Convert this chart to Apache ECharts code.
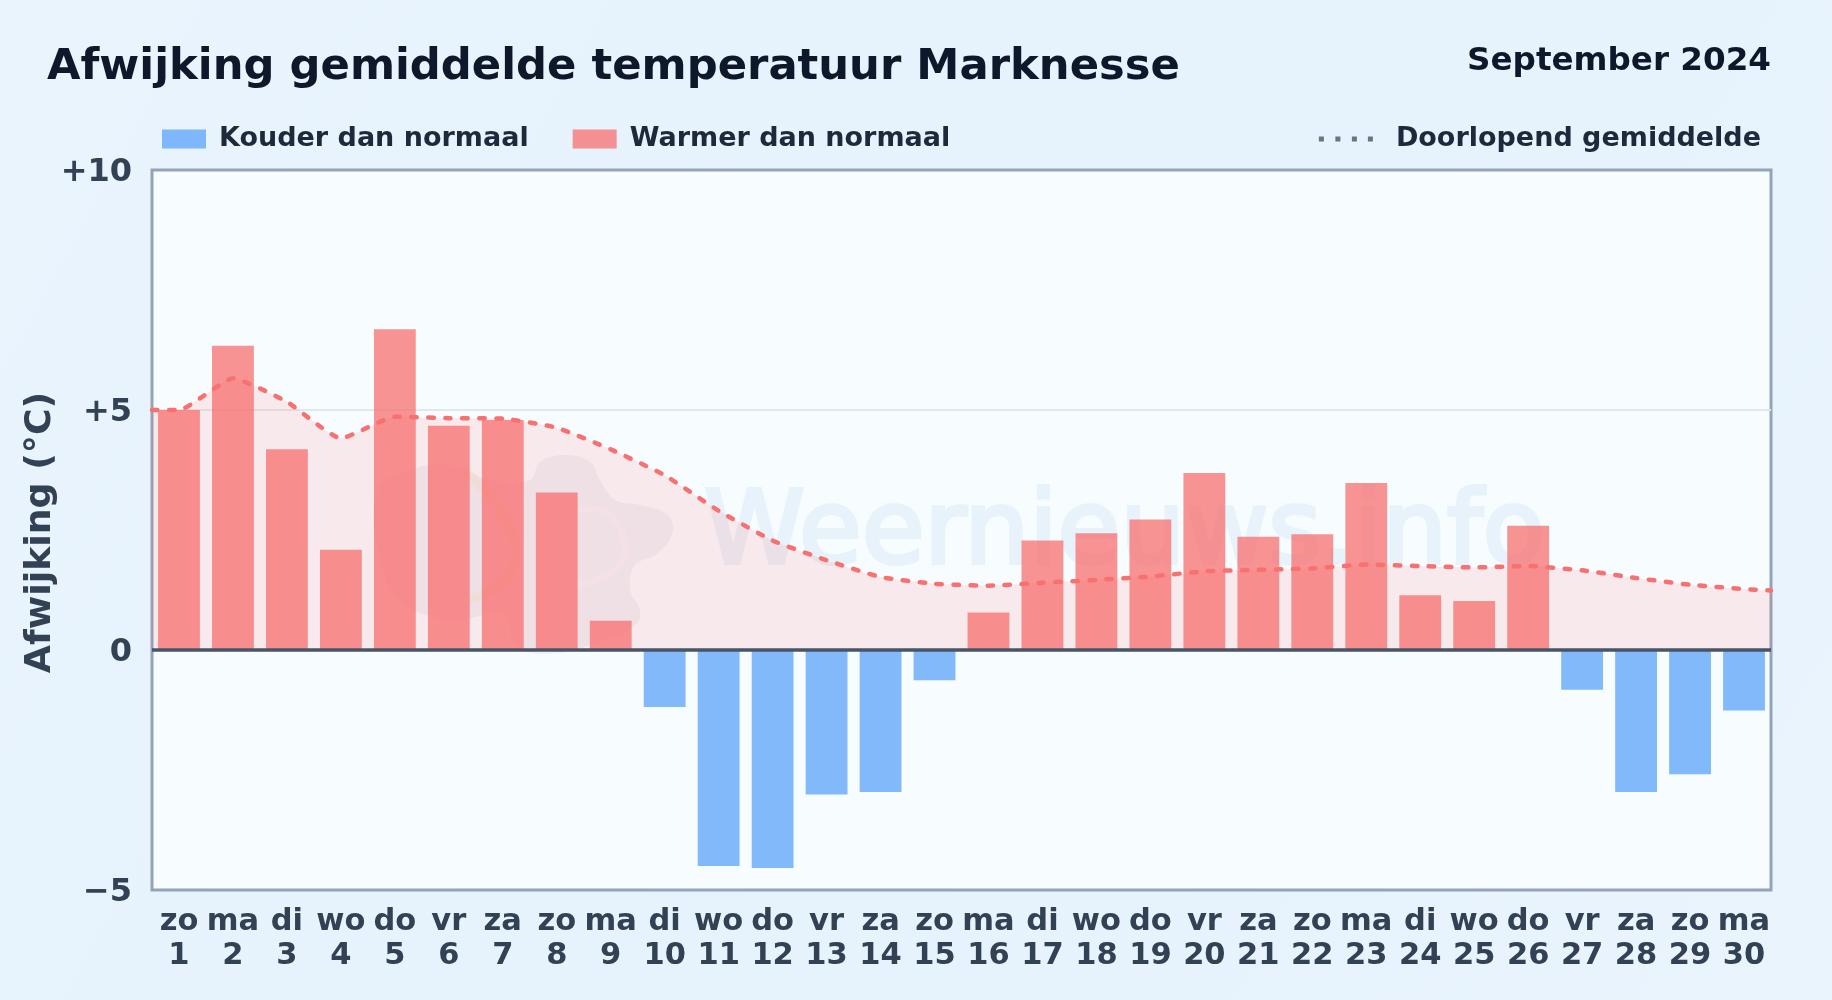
<!DOCTYPE html>
<html><head><meta charset="utf-8">
<style>html,body{margin:0;padding:0;background:#e8f3fc}#c{width:1832px;height:1000px}</style>
<script src="https://cdn.jsdelivr.net/npm/echarts@6/dist/echarts.min.js"></script>
</head><body><div id="c"></div>
<script>
const weekdays = ['zo','ma','di','wo','do','vr','za','zo','ma','di','wo','do','vr','za','zo','ma','di','wo','do','vr','za','zo','ma','di','wo','do','vr','za','zo','ma'];
const days = [1,2,3,4,5,6,7,8,9,10,11,12,13,14,15,16,17,18,19,20,21,22,23,24,25,26,27,28,29,30];
const deviation = [5.0,6.34,4.18,2.09,6.68,4.67,4.79,3.28,0.61,-1.19,-4.5,-4.54,-3.01,-2.96,-0.63,0.78,2.28,2.43,2.72,3.69,2.36,2.41,3.48,1.14,1.02,2.59,-0.83,-2.96,-2.59,-1.26];
const runningMean = [5.0,5.66,5.17,4.41,4.86,4.83,4.82,4.63,4.18,3.64,2.90,2.28,1.87,1.52,1.38,1.34,1.40,1.46,1.53,1.64,1.67,1.70,1.78,1.75,1.72,1.75,1.66,1.50,1.36,1.27];
const edgeStart = 5.0, edgeEnd = 1.24;
const yTicks = {'10':'+10','5':'+5','0':'0','-5':'\u22125'};
const fontName = '"DejaVu Sans"';
const coldName = 'Kouder dan normaal', warmName = 'Warmer dan normaal', meanName = 'Doorlopend gemiddelde';
const dotsIcon = 'path://M0 0h5v5h-5zM16.5 0h5v5h-5zM33 0h5v5h-5zM49 0h5v5h-5z';

const chart = echarts.init(document.getElementById('c'), null, {renderer:'canvas'});
chart.setOption({
  animation:false,
  backgroundColor:{type:'linear',x:0,y:0,x2:1,y2:1,colorStops:[{offset:0,color:'#e9f4fd'},{offset:.5,color:'#e6f2fc'},{offset:1,color:'#e9f4fd'}]},
  title:[
    {text:'Afwijking gemiddelde temperatuur Marknesse',left:42,top:41.5,textStyle:{fontFamily:fontName,fontWeight:'bold',fontSize:43.3,color:'#0f172a'}},
    {text:'September 2024',right:56,top:40,textStyle:{fontFamily:fontName,fontWeight:'bold',fontSize:32.6,color:'#0f172a'}}
  ],
  legend:[
    {left:157,top:120.5,itemWidth:44,itemHeight:19,itemGap:44,icon:'rect',selectedMode:false,data:[coldName,warmName],
     textStyle:{fontFamily:fontName,fontWeight:'bold',fontSize:27,color:'#1e293b',padding:[0,0,0,8]}},
    {right:66,top:120.5,itemWidth:54,itemHeight:5,icon:dotsIcon,selectedMode:false,
     data:[{name:meanName,itemStyle:{color:'#64748b',opacity:1},lineStyle:{opacity:0}}],
     textStyle:{fontFamily:fontName,fontWeight:'bold',fontSize:27,color:'#1e293b',padding:[0,0,0,18]}}
  ],
  grid:{left:152,right:61,top:170,bottom:110,show:true,backgroundColor:'#f7fcff',borderColor:'#94a3b8',borderWidth:3},
  graphic:[
    {type:'text',z:1,x:704,y:485,style:{text:'Weernieuws.info',font:'102px "DejaVu Sans"',fill:'#e7f2fb',stroke:'#e7f2fb',lineWidth:4}},
    {type:'polygon',z:1,shape:{smooth:0.4,points:[[540,462],[565,455],[590,462],[600,480],[615,500],[640,505],[668,515],[672,535],[655,555],[635,565],[630,590],[640,610],[635,625],[590,645],[545,654],[515,645],[505,615],[450,620],[400,600],[378,550],[378,490],[410,470],[450,465],[490,480],[530,480]]},style:{fill:'rgba(71,85,140,0.06)'}},
    {type:'polyline',z:1,shape:{smooth:0.4,points:[[560,512],[605,512],[625,545],[612,572],[575,585]]},style:{fill:'none',stroke:'rgba(250,244,248,0.45)',lineWidth:7}},
    {type:'polyline',z:1,shape:{smooth:0.4,points:[[465,470],[500,510],[515,550],[505,580],[470,600]]},style:{fill:'none',stroke:'rgba(251,191,36,0.08)',lineWidth:9}}
  ],
  xAxis:[
    {type:'category',data:weekdays.map((d,i)=>d+'\n'+days[i]),boundaryGap:true,
     axisLine:{show:false},axisTick:{show:false},splitLine:{show:false},
     axisLabel:{interval:0,margin:15.5,fontFamily:fontName,fontWeight:'bold',fontSize:30.5,lineHeight:34,color:'#334155'}},
    {type:'value',min:0,max:30,show:false,splitLine:{show:false}}
  ],
  yAxis:[{type:'value',min:-5,max:10,interval:5,name:'Afwijking (°C)',nameLocation:'middle',nameGap:93,nameRotate:90,nameMoveOverlap:false,
    nameTextStyle:{fontFamily:fontName,fontWeight:'bold',fontSize:36.3,color:'#334155',padding:[0,5,0,0]},
    axisLine:{show:false},axisTick:{show:false},
    axisLabel:{margin:20,verticalAlign:'top',lineHeight:6,fontFamily:fontName,fontWeight:'bold',fontSize:32,color:'#334155',formatter:v=>yTicks[String(v)]},
    splitLine:{show:true,showMinLine:false,showMaxLine:false,lineStyle:{color:'#e2e8f0',width:2}}}],
  series:[
    {name:meanName,type:'line',xAxisIndex:1,yAxisIndex:0,smooth:0.15,showSymbol:false,symbol:'none',
     data:[[0,edgeStart]].concat(runningMean.map((v,i)=>[i+0.5,v])).concat([[30,edgeEnd]]),
     lineStyle:{color:'rgba(248,113,113,1)',width:4.5,type:[5.5,11.5],cap:'round'},
     areaStyle:{color:'rgba(255,100,100,0.12)',opacity:1,origin:0},z:4},
    {name:warmName,type:'bar',xAxisIndex:0,barWidth:'77.5%',barGap:'-100%',z:3,
     itemStyle:{color:'rgba(248,113,113,0.76)'},data:deviation.map(v=>v>0?v:null)},
    {name:coldName,type:'bar',xAxisIndex:0,barWidth:'77.5%',barGap:'-100%',z:3,
     itemStyle:{color:'rgba(96,165,250,0.78)'},data:deviation.map(v=>v<0?v:null),
     markLine:{silent:true,symbol:'none',label:{show:false},z:5,data:[{yAxis:0}],lineStyle:{color:'#475569',type:'solid',width:3.5}}}
  ]
});
</script></body></html>
